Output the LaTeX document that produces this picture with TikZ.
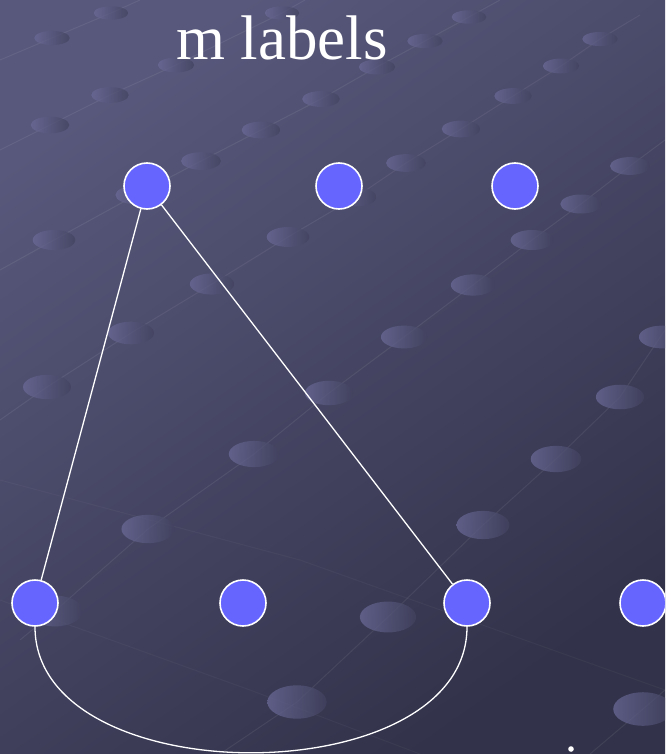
\documentclass[tikz,border=0pt]{standalone}
\usepackage{fontspec}
\setmainfont{Liberation Serif}
\definecolor{nodefill}{HTML}{6666FF}
\definecolor{bgtop}{HTML}{58587C}
\definecolor{bgbot}{HTML}{32324A}
\definecolor{dotlight}{HTML}{6A6A98}
\definecolor{dotdark}{HTML}{42425F}
\tikzset{
  vertex/.style={circle, minimum size=46pt, inner sep=0pt, fill=nodefill, draw=white, line width=1.6pt},
  edge/.style={draw=white, line width=1.3pt},
  gridline/.style={draw=white, draw opacity=0.07, line width=1pt},
  faintline/.style={draw=white, draw opacity=0.035, line width=1pt},
  dotshade/.style={left color=dotlight, right color=dotdark, opacity=0.75},
  title/.style={text=white, font=\fontsize{63}{70}\selectfont, anchor=base, inner sep=0pt}
}
\begin{document}
\begin{tikzpicture}[x=1pt,y=-1pt]
\useasboundingbox (0,0) rectangle (665,754);
\clip (0,0) rectangle (665,754);
\shade[top color=bgtop, bottom color=bgbot, shading angle=35] (0,0) rectangle (665,754);
% background grid lines
\draw[gridline] (20,640) -- (55,611) -- (148,529) -- (254,454) -- (329,393) -- (404,337) -- (473,285) -- (532,240) -- (581,204) -- (630,166) -- (665,140);
\draw[gridline] (220,754) -- (297,702) -- (388,617) -- (483,525) -- (556,459) -- (620,397) -- (665,330);
\draw[gridline] (0,420) -- (47,387) -- (131,333) -- (212,284) -- (288,237) -- (356,197) -- (406,163) -- (461,129) -- (513,96) -- (561,66) -- (600,39) -- (640,15);
\draw[gridline] (0,270) -- (54,240) -- (136,195) -- (201,161) -- (261,130) -- (321,99) -- (377,67) -- (425,41) -- (469,17) -- (500,0);
\draw[gridline] (0,150) -- (50,125) -- (110,95) -- (176,65) -- (282,13) -- (305,0);
\draw[gridline] (0,60) -- (52,38) -- (111,13) -- (140,0);
\draw[gridline] (590,754) -- (643,709) -- (665,690);
\draw[faintline] (0,480) -- (300,560) -- (665,690);
\draw[faintline] (0,600) -- (250,690) -- (420,754);
% background dots
\foreach \px/\py in {111/13, 52/38, 282/13, 469/17, 425/41, 600/39, 176/65, 377/67, 561/66,
  110/95, 321/99, 513/96, 50/125, 261/130, 461/129, 201/161, 406/163, 630/166, 136/195,
  356/197, 581/204, 54/240, 288/237, 532/240, 212/284, 473/285, 131/333, 404/337, 662/337,
  47/387, 329/393, 620/397, 254/454, 556/459, 148/529, 483/525, 55/611, 388/617, 297/702, 643/709} {
  \pgfmathsetmacro\rx{17+0.018*\py}
  \pgfmathsetmacro\ry{6.5+0.0145*\py}
  \shade[dotshade] (\px,\py) ellipse [x radius=\rx pt, y radius=\ry pt];
}
% title
\node[title] (ttl) at (282,60) {m labels};
% vertices
\node[vertex] (t1) at (147,186) {};
\node[vertex] (t2) at (339,186) {};
\node[vertex] (t3) at (515,186) {};
\node[vertex] (b1) at (35,603) {};
\node[vertex] (b2) at (243,603) {};
\node[vertex] (b3) at (467,603) {};
\node[vertex] (b4) at (643,603) {};
% edges
\draw[edge] (t1) -- (b1);
\draw[edge] (t1) -- (b3);
\draw[edge] (b1.south) .. controls +(0,168) and +(0,168) .. (b3.south);
% fragment of text at the bottom edge
\fill[white] (571,749) circle [radius=2.8pt] coordinate (frag);
\end{tikzpicture}
\end{document}
